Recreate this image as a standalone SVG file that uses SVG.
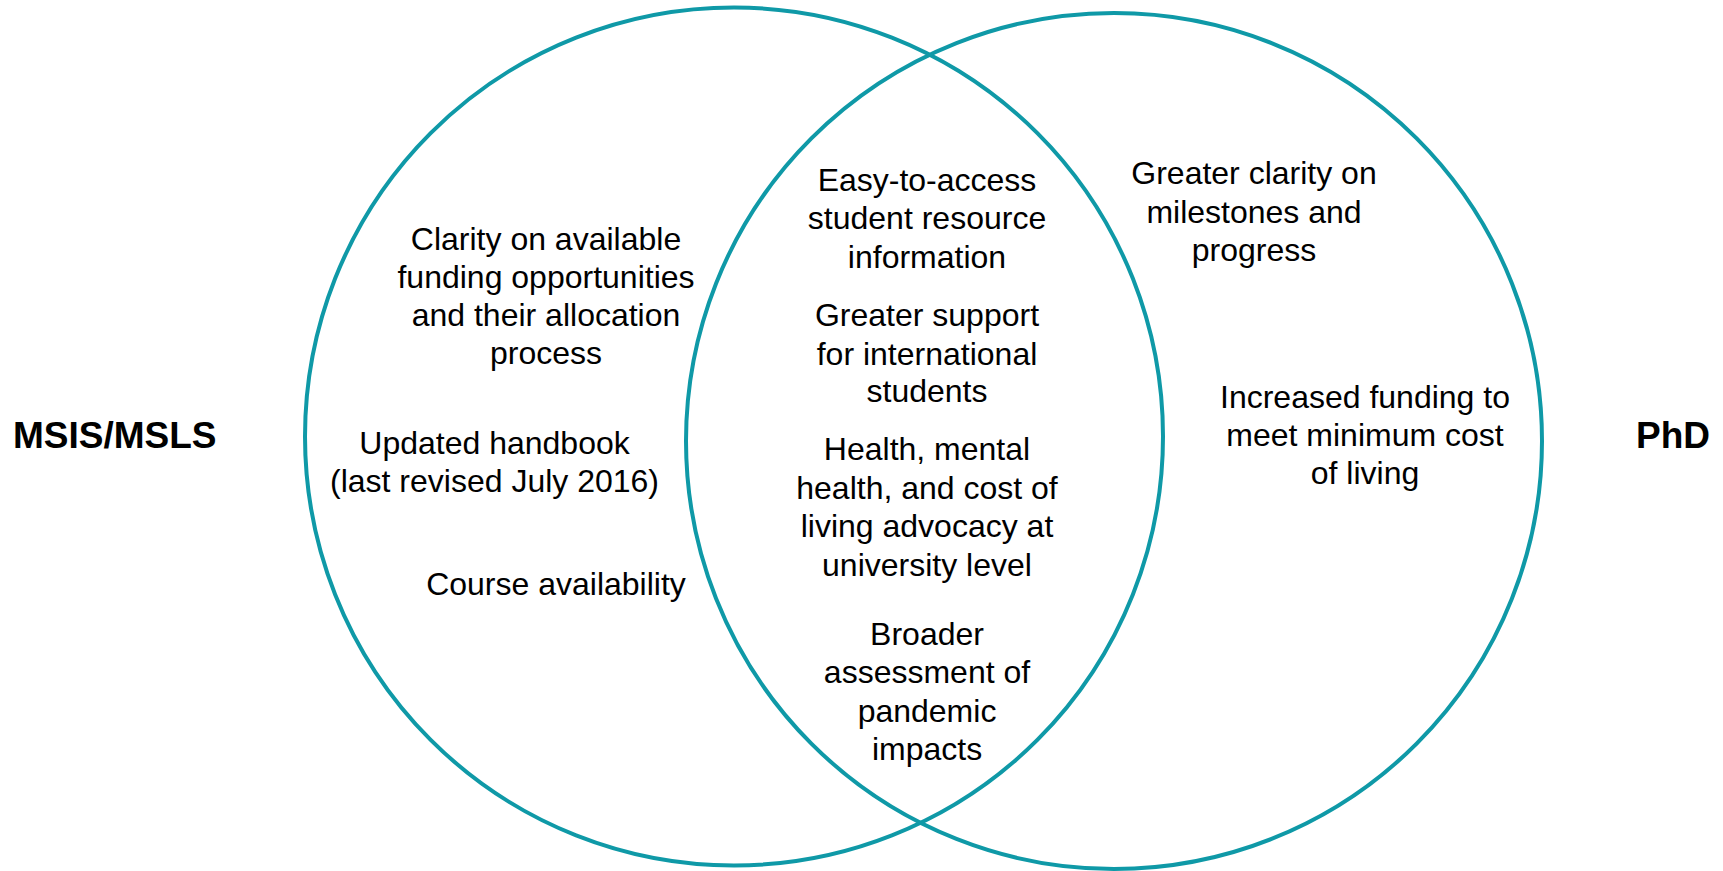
<svg xmlns="http://www.w3.org/2000/svg" width="1723" height="871" viewBox="0 0 1723 871">
<style>
.c{fill:none;stroke:#0f99a7;stroke-width:4}
.t{font-family:"Liberation Sans",Arial,sans-serif;font-size:32px;fill:#000;text-anchor:middle}
.b{font-family:"Liberation Sans",Arial,sans-serif;font-size:37px;font-weight:bold;fill:#000}
</style>
<rect width="1723" height="871" fill="#fff"/>
<g id="circle-left"><circle class="c" cx="734" cy="436.5" r="429"/></g>
<g id="circle-right"><circle class="c" cx="1114" cy="441" r="428"/></g>
<g id="label-left"><text class="b" x="13" y="448">MSIS/MSLS</text></g>
<g id="label-right"><text class="b" x="1636" y="448">PhD</text></g>
<g id="left-funding"><text class="t"><tspan x="546" y="250">Clarity on available</tspan><tspan x="546" y="288">funding opportunities</tspan><tspan x="546" y="326">and their allocation</tspan><tspan x="546" y="364">process</tspan></text></g>
<g id="left-handbook"><text class="t"><tspan x="494.5" y="453.5">Updated handbook</tspan><tspan x="494.5" y="491.5">(last revised July 2016)</tspan></text></g>
<g id="left-course"><text class="t"><tspan x="556" y="595">Course availability</tspan></text></g>
<g id="mid-resource"><text class="t"><tspan x="927" y="190.5">Easy-to-access</tspan><tspan x="927" y="229">student resource</tspan><tspan x="927" y="267.5">information</tspan></text></g>
<g id="mid-international"><text class="t"><tspan x="927" y="326">Greater support</tspan><tspan x="927" y="364.5">for international</tspan><tspan x="927" y="402">students</tspan></text></g>
<g id="mid-health"><text class="t"><tspan x="927" y="460">Health, mental</tspan><tspan x="927" y="498.5">health, and cost of</tspan><tspan x="927" y="537">living advocacy at</tspan><tspan x="927" y="575.5">university level</tspan></text></g>
<g id="mid-pandemic"><text class="t"><tspan x="927" y="644.5">Broader</tspan><tspan x="927" y="683">assessment of</tspan><tspan x="927" y="721.5">pandemic</tspan><tspan x="927" y="760">impacts</tspan></text></g>
<g id="right-milestones"><text class="t"><tspan x="1254" y="184">Greater clarity on</tspan><tspan x="1254" y="222.5">milestones and</tspan><tspan x="1254" y="261">progress</tspan></text></g>
<g id="right-funding"><text class="t"><tspan x="1365" y="408">Increased funding to</tspan><tspan x="1365" y="445.5">meet minimum cost</tspan><tspan x="1365" y="484">of living</tspan></text></g>
<g id="connectors"></g>
</svg>
